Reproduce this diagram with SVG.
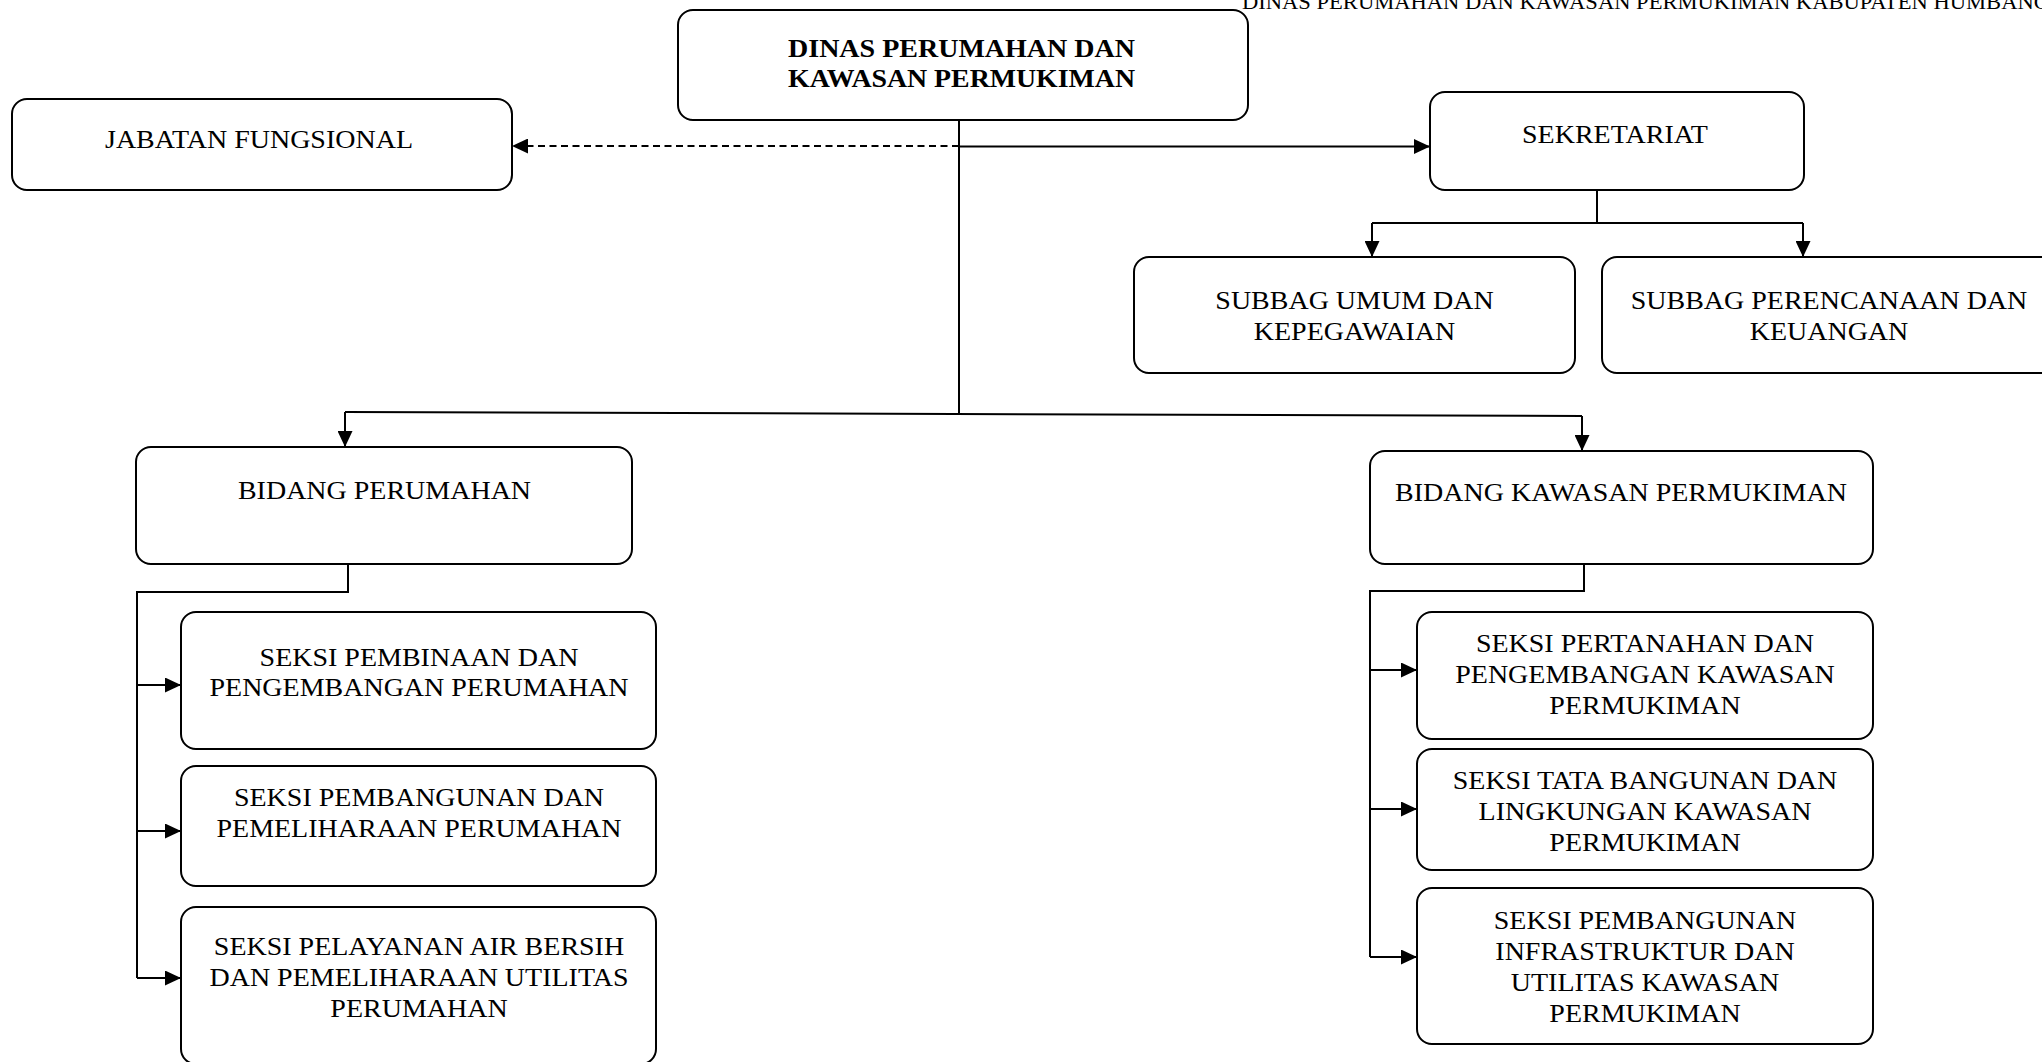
<svg xmlns="http://www.w3.org/2000/svg" width="2042" height="1062" viewBox="0 0 2042 1062">
<style>
.box{fill:#fff;stroke:#000;stroke-width:2}
.t{font-family:"Liberation Serif","Times New Roman",serif;font-size:25px;fill:#000;text-anchor:middle}
.tb{font-family:"Liberation Serif","Times New Roman",serif;font-size:25px;font-weight:bold;fill:#000}
.hd{font-family:"Liberation Serif","Times New Roman",serif;font-size:20px;fill:#000}
.ln{fill:none;stroke:#000;stroke-width:2}
.ar{fill:none;stroke:#000;stroke-width:2;marker-end:url(#arr)}
.dash{fill:none;stroke:#000;stroke-width:2;stroke-dasharray:7 4.5;marker-end:url(#arr)}
</style>
<defs>
<marker id="arr" markerUnits="userSpaceOnUse" markerWidth="16" markerHeight="15" refX="16" refY="7.5" orient="auto">
<path d="M0,0 L16,7.5 L0,15 Z" fill="#000"/>
</marker>
</defs>
<rect width="2042" height="1062" fill="#fff"/>

<text id="header" class="hd" x="1242" y="9" textLength="808" lengthAdjust="spacingAndGlyphs">DINAS PERUMAHAN DAN KAWASAN PERMUKIMAN KABUPATEN HUMBANG</text>

<g id="connectors">
<path class="ln" d="M959,120 V414"/>
<path class="dash" d="M959,146 H512"/>
<path class="ar" d="M959,146.5 H1430"/>
<path class="ln" d="M1597,190 V223 M1372,223 H1803"/>
<path class="ar" d="M1372,223 V257"/>
<path class="ar" d="M1803,223 V257"/>
<path class="ln" d="M345,412 L1582,416"/>
<path class="ar" d="M345,412 V447"/>
<path class="ar" d="M1582,416 V451"/>
<path class="ln" d="M348,564 V592 H137 V978"/>
<path class="ar" d="M137,685 H181"/>
<path class="ar" d="M137,831 H181"/>
<path class="ar" d="M137,978 H181"/>
<path class="ln" d="M1584,564 V591 H1370 V957"/>
<path class="ar" d="M1370,670 H1417"/>
<path class="ar" d="M1370,809 H1417"/>
<path class="ar" d="M1370,957 H1417"/>
</g>

<g id="dinas">
<rect class="box" x="678" y="10" width="570" height="110" rx="15"/>
<text class="tb"><tspan x="788" y="57" textLength="347" lengthAdjust="spacingAndGlyphs">DINAS PERUMAHAN DAN</tspan><tspan x="788" y="87" textLength="347" lengthAdjust="spacingAndGlyphs">KAWASAN PERMUKIMAN</tspan></text>
</g>

<g id="jabatan">
<rect class="box" x="12" y="99" width="500" height="91" rx="15"/>
<text class="t" transform="translate(259,0) scale(1.12,1)"><tspan x="0" y="148">JABATAN FUNGSIONAL</tspan></text>
</g>

<g id="sekretariat">
<rect class="box" x="1430" y="92" width="374" height="98" rx="15"/>
<text class="t" transform="translate(1615,0) scale(1.12,1)"><tspan x="0" y="143">SEKRETARIAT</tspan></text>
</g>

<g id="subbag-umum">
<rect class="box" x="1134" y="257" width="441" height="116" rx="15"/>
<text class="t" transform="translate(1354.5,0) scale(1.12,1)"><tspan x="0" y="309">SUBBAG UMUM DAN</tspan><tspan x="0" y="340">KEPEGAWAIAN</tspan></text>
</g>

<g id="subbag-perencanaan">
<rect class="box" x="1602" y="257" width="456" height="116" rx="15"/>
<text class="t" transform="translate(1829,0) scale(1.12,1)"><tspan x="0" y="309">SUBBAG PERENCANAAN DAN</tspan><tspan x="0" y="340">KEUANGAN</tspan></text>
</g>

<g id="bidang-perumahan">
<rect class="box" x="136" y="447" width="496" height="117" rx="15"/>
<text class="t" transform="translate(384.5,0) scale(1.12,1)"><tspan x="0" y="499">BIDANG PERUMAHAN</tspan></text>
</g>

<g id="bidang-kawasan">
<rect class="box" x="1370" y="451" width="503" height="113" rx="15"/>
<text class="t" transform="translate(1621,0) scale(1.12,1)"><tspan x="0" y="501">BIDANG KAWASAN PERMUKIMAN</tspan></text>
</g>

<g id="seksi-pembinaan">
<rect class="box" x="181" y="612" width="475" height="137" rx="15"/>
<text class="t" transform="translate(419,0) scale(1.12,1)"><tspan x="0" y="666">SEKSI PEMBINAAN DAN</tspan><tspan x="0" y="696">PENGEMBANGAN PERUMAHAN</tspan></text>
</g>

<g id="seksi-pembangunan-perumahan">
<rect class="box" x="181" y="766" width="475" height="120" rx="15"/>
<text class="t" transform="translate(419,0) scale(1.12,1)"><tspan x="0" y="806">SEKSI PEMBANGUNAN DAN</tspan><tspan x="0" y="837">PEMELIHARAAN PERUMAHAN</tspan></text>
</g>

<g id="seksi-pelayanan">
<rect class="box" x="181" y="907" width="475" height="157" rx="15"/>
<text class="t" transform="translate(419,0) scale(1.12,1)"><tspan x="0" y="955">SEKSI PELAYANAN AIR BERSIH</tspan><tspan x="0" y="986">DAN PEMELIHARAAN UTILITAS</tspan><tspan x="0" y="1017">PERUMAHAN</tspan></text>
</g>

<g id="seksi-pertanahan">
<rect class="box" x="1417" y="612" width="456" height="127" rx="15"/>
<text class="t" transform="translate(1645,0) scale(1.12,1)"><tspan x="0" y="652">SEKSI PERTANAHAN DAN</tspan><tspan x="0" y="683">PENGEMBANGAN KAWASAN</tspan><tspan x="0" y="714">PERMUKIMAN</tspan></text>
</g>

<g id="seksi-tata-bangunan">
<rect class="box" x="1417" y="749" width="456" height="121" rx="15"/>
<text class="t" transform="translate(1645,0) scale(1.12,1)"><tspan x="0" y="789">SEKSI TATA BANGUNAN DAN</tspan><tspan x="0" y="820">LINGKUNGAN KAWASAN</tspan><tspan x="0" y="851">PERMUKIMAN</tspan></text>
</g>

<g id="seksi-infrastruktur">
<rect class="box" x="1417" y="888" width="456" height="156" rx="15"/>
<text class="t" transform="translate(1645,0) scale(1.12,1)"><tspan x="0" y="929">SEKSI PEMBANGUNAN</tspan><tspan x="0" y="960">INFRASTRUKTUR DAN</tspan><tspan x="0" y="991">UTILITAS KAWASAN</tspan><tspan x="0" y="1022">PERMUKIMAN</tspan></text>
</g>
</svg>
